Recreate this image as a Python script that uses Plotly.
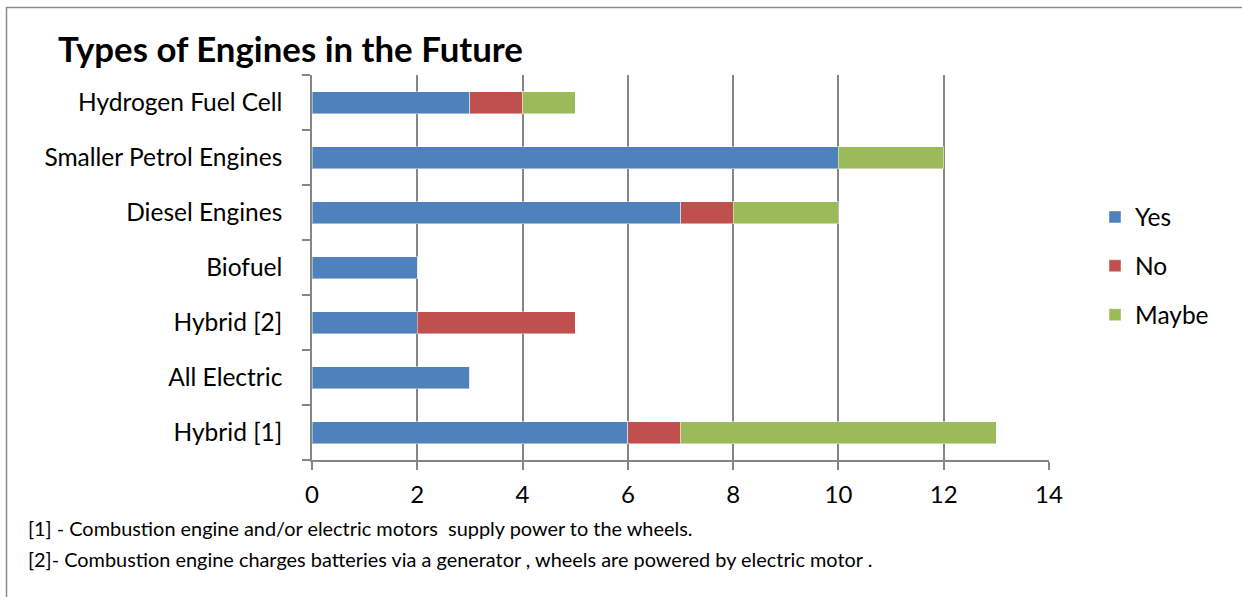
import plotly.graph_objects as go

# Engine types (bottom to top) and survey answers
categories = ["Hybrid [1]", "All Electric", "Hybrid [2]", "Biofuel",
              "Diesel Engines", "Smaller Petrol Engines", "Hydrogen Fuel Cell"]
yes_vals = [6, 3, 2, 2, 7, 10, 3]
no_vals = [1, 0, 3, 0, 1, 0, 1]
maybe_vals = [6, 0, 0, 0, 2, 2, 1]

series_names = ["Yes", "No", "Maybe"]
series_colors = ["#4F81BD", "#C0504D", "#9BBB59"]
x_ticks = [0, 2, 4, 6, 8, 10, 12, 14]

footnotes = [
    "[1] - Combustion engine and/or electric motors  supply power to the wheels.",
    "[2]- Combustion engine charges batteries via a generator , wheels are powered by electric motor .",
]

FONT = "Lato"
W, H = 1242, 597
L, R, T, B = 312, 1049, 75, 460  # plot area in pixels


def px_x(px):
    return (px - L) / (R - L)


def px_y(py):
    return (B - py) / (B - T)


fig = go.Figure()
for name, vals, color in zip(series_names, [yes_vals, no_vals, maybe_vals], series_colors):
    fig.add_trace(go.Bar(
        y=categories, x=vals, name=name, orientation="h",
        marker=dict(color=color, line=dict(color="rgba(255,255,255,0.45)", width=1)),
        legendgroup=name,
    ))

fig.update_layout(
    width=W, height=H,
    margin=dict(l=L, r=W - R, t=T, b=H - B),
    barmode="stack",
    bargap=0.6,
    paper_bgcolor="white",
    plot_bgcolor="white",
    font=dict(family=FONT, size=24, color="black"),
    title=dict(text="<b>Types of Engines in the Future</b>", x=58 / W, xanchor="left",
               y=1 - 50 / H, yanchor="middle", xref="container",
               font=dict(family=FONT, size=34.8, color="black")),
    legend=dict(x=px_x(1095), xanchor="left", y=px_y(266), yanchor="middle",
                traceorder="grouped", tracegroupgap=14,
                font=dict(family=FONT, size=24.5, color="black"),
                itemwidth=30),
    showlegend=True,
)

fig.update_xaxes(
    range=[0, 14], tickvals=x_ticks, ticktext=[str(v) for v in x_ticks],
    showgrid=True, gridcolor="#858585", gridwidth=1.5,
    showline=True, linecolor="#858585", linewidth=1.5,
    ticks="outside", ticklen=8, tickcolor="#858585", tickwidth=1.5,
    zeroline=False, ticklabelstandoff=4,
    tickfont=dict(family=FONT, size=24, color="black"),
    fixedrange=True,
)
fig.update_yaxes(
    type="category", categoryorder="array", categoryarray=categories,
    showgrid=False, showline=True, linecolor="#858585", linewidth=1.5,
    ticks="outside", ticklen=8, tickcolor="#858585", tickwidth=1.5,
    tickson="boundaries", ticklabelstandoff=23,
    tickfont=dict(family=FONT, size=24.5, color="black"),
    fixedrange=True,
)

# Outer chart border (extends past the right and bottom edges)
fig.add_shape(type="rect", xref="paper", yref="paper",
              x0=px_x(6.5), x1=px_x(W + 20), y0=px_y(H + 20), y1=px_y(7.5),
              line=dict(color="#8c8c8c", width=1.5), fillcolor="rgba(0,0,0,0)", layer="below")

for i, note in enumerate(footnotes):
    fig.add_annotation(text=note, xref="paper", yref="paper",
                       x=px_x(26), xanchor="left", y=px_y(528 + 31 * i), yanchor="middle",
                       showarrow=False, font=dict(family=FONT, size=19.9, color="black"))

fig.write_html("out.html")
